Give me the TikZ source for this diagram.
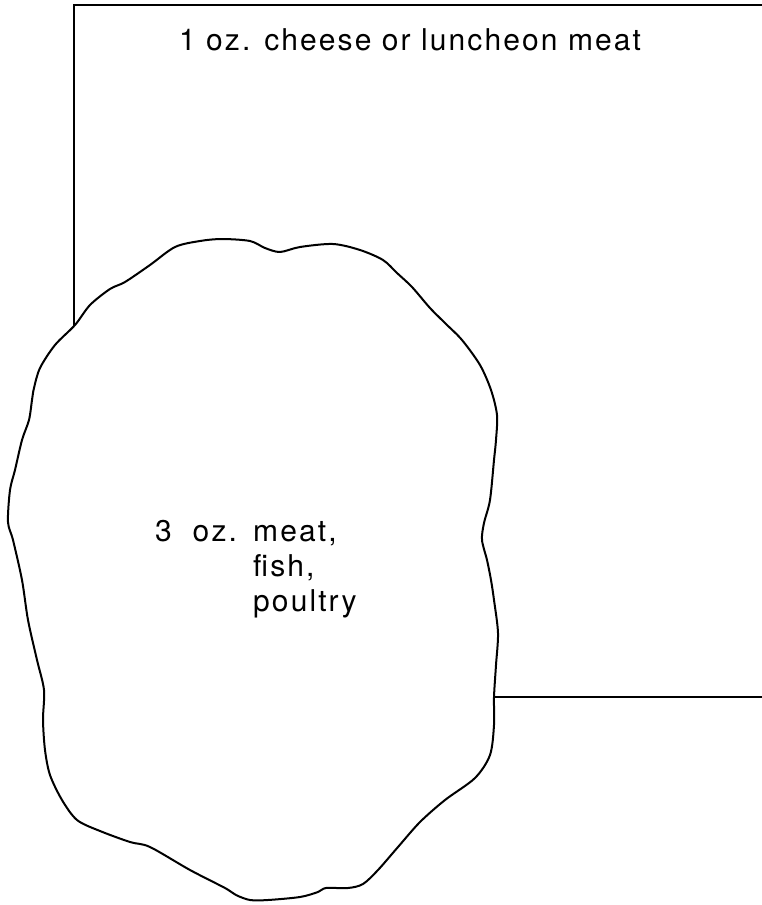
\documentclass[tikz,border=0pt]{standalone}
\usepackage{fontspec}
\setmainfont{TeX Gyre Heros}[LetterSpace=7.0]
\usepackage{tikz}
\usetikzlibrary{positioning}

\begin{document}
\begin{tikzpicture}[
    x=1pt, y=-1pt,
    frame/.style={draw=black, line width=2pt},
    blob/.style={draw=black, fill=white, line width=2pt, line join=round},
    lbl/.style={inner sep=0pt, align=left, font=\fontsize{30}{35}\selectfont}
]

\clip (0,0) rectangle (762,905);

% large box, running off the right edge
\draw[frame] (74,5) rectangle (790,697);

% meat portion
\draw[blob] plot[smooth cycle, tension=0.5] coordinates {
  (75,325) (90,305) (110,289) (125,282) (150,265) (175,247) (200,241)
  (222,239) (250,241) (265,248) (280,252) (300,247) (333,244) (360,250)
  (383,260) (397,273) (412,287) (430,308) (446,324) (462,340) (480,365)
  (491,390) (497,415) (496,440) (494,460) (490,500) (484,523) (482,540)
  (487,560) (491,580) (494,600) (498,633) (496,665) (494,697) (494,725)
  (490,755) (475,778) (445,800) (420,822) (398,847) (378,870) (363,884)
  (348,888) (326,888) (318,892) (300,897) (268,900) (250,900) (236,895)
  (225,888) (190,870) (150,847) (130,842) (100,831) (77,820) (62,800)
  (50,775) (45,750) (43,720) (44,690) (37,660) (28,620) (22,580)
  (13,540) (8,522) (10,490) (15,470) (22,440) (29,420) (32,400)
  (34,388) (40,368) (55,345)};

\node[lbl, anchor=base] (cheese) at (410,50) {1 oz. cheese or luncheon meat};
\node[lbl, anchor=base west] (amount) at (155,541) {3\ \ oz.};
% base of a multi-line node is its last line
\node[lbl, anchor=base west] (foods) at (253,611) {meat,\\fish,\\poultry};

\end{tikzpicture}
\end{document}
